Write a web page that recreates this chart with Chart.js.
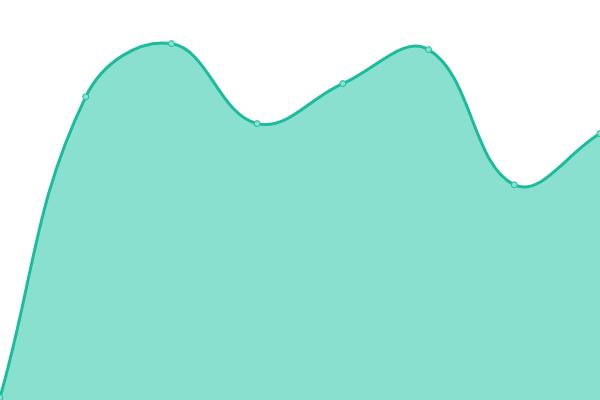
<!DOCTYPE html>
<html>
<head>
<meta charset="utf-8">
<script src="https://cdn.jsdelivr.net/npm/chart.js@4/dist/chart.umd.min.js"></script>
<style>
  html, body { margin: 0; padding: 0; background: #fff; }
  #wrap { width: 600px; height: 400px; }
</style>
</head>
<body>
<div id="wrap"><canvas id="myChart"></canvas></div>
<script>
const labels = ['1', '2', '3', '4', '5', '6', '7', '8'];
const values = [0.6, 75.8, 89.1, 69.1, 79.1, 87.6, 53.8, 66.6];

const ctx = document.getElementById('myChart').getContext('2d');

let myChart = new Chart(ctx, {
    type: 'line',
    data: {
        labels: labels,
        datasets: [{
            data: values,
            fill: true,
            tension: 0.4,
            backgroundColor: 'rgba(20, 194, 160, 0.5)',
            borderColor: 'rgba(26, 188, 156, 1)',
            borderWidth: 3,
            pointRadius: 3,
            pointBorderWidth: 1,
            pointBackgroundColor: 'rgba(137, 224, 208, 1)',
            pointBorderColor: 'rgba(26, 188, 156, 1)'
        }]
    },
    options: {
        responsive: true,
        maintainAspectRatio: false,
        animation: false,
        layout: { padding: 0, autoPadding: false },
        plugins: {
            legend: { display: false },
            tooltip: { enabled: false }
        },
        scales: {
            x: { display: false },
            y: { display: false, min: 0, max: 100 }
        }
    }
});
</script>
</body>
</html>
